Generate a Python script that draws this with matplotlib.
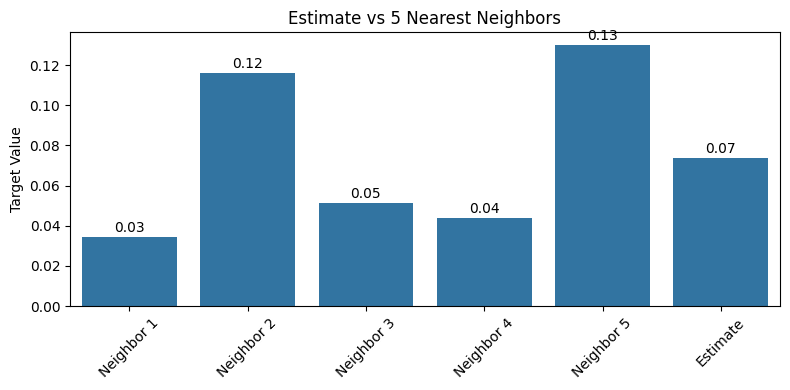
import matplotlib
matplotlib.use("Agg")
import matplotlib.pyplot as plt
import seaborn as sns
import pandas as pd

categories = ["Neighbor 1", "Neighbor 2", "Neighbor 3", "Neighbor 4", "Neighbor 5", "Estimate"]
values = [0.0344, 0.1162, 0.0513, 0.0438, 0.1300, 0.0737]

df = pd.DataFrame({"label": categories, "value": values})

fig, ax = plt.subplots(figsize=(7.9, 3.9), dpi=100)
sns.barplot(data=df, x="label", y="value", ax=ax)
for i, v in enumerate(values):
    ax.text(i, v + 0.001, f"{v:.2f}", ha="center", va="bottom", fontsize=10)
ax.set_title("Estimate vs 5 Nearest Neighbors")
ax.set_xlabel("")
ax.set_ylabel("Target Value")
ax.tick_params(axis="x", rotation=45)
fig.subplots_adjust(left=70/790, right=780/790, top=1-32/390, bottom=1-306/390)
fig.savefig("out.png", dpi=100)
